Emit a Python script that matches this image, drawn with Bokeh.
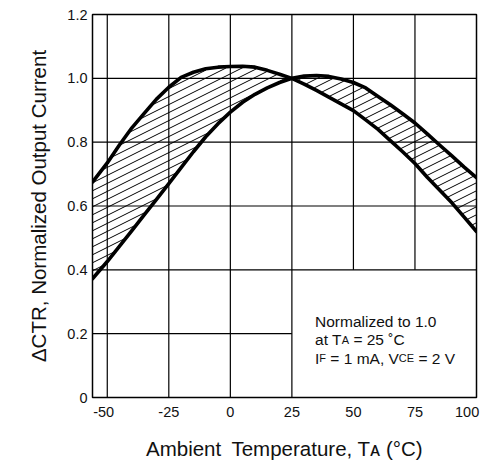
import numpy as np
from bokeh.plotting import figure
from bokeh.models import Label, FixedTicker, Range1d, LinearAxis
from bokeh.embed import file_html
from bokeh.resources import INLINE

# ---------------- data ----------------
temp = [-56, -50, -45, -40, -35, -30, -25, -20, -15, -10, -5, 0, 5, 10, 15, 20, 25,
        30, 35, 40, 45, 50, 55, 60, 65, 70, 75, 80, 85, 90, 95, 100]
ctr_a = [0.675, 0.735, 0.792, 0.845, 0.890, 0.935, 0.972, 1.003, 1.019, 1.030, 1.035, 1.037,
         1.038, 1.035, 1.025, 1.013, 1.000, 0.982, 0.962, 0.941, 0.920, 0.899, 0.870, 0.840,
         0.805, 0.770, 0.733, 0.690, 0.650, 0.610, 0.565, 0.520]
ctr_b = [0.372, 0.426, 0.474, 0.523, 0.572, 0.621, 0.670, 0.720, 0.770, 0.817, 0.858, 0.894,
         0.925, 0.950, 0.970, 0.987, 1.000, 1.007, 1.009, 1.006, 0.998, 0.987, 0.970, 0.943,
         0.917, 0.889, 0.860, 0.826, 0.791, 0.757, 0.722, 0.689]

x_ticks = [-50, -25, 0, 25, 50, 75, 100]
x_tick_labels = ["-50\u2002", "-25", "0", "25", "50", "75", "100\u2002"]
y_ticks = [0, 0.2, 0.4, 0.6, 0.8, 1.0, 1.2]
y_tick_labels = ["0", "0.2", "0.4", "0.6", "0.8", "1.0", "1.2"]

x_title = "Ambient\u2002Temperature, T\u1d00 (°C)"
y_title = "ΔCTR, Normalized Output Current"
note_lines = [
    [("Normalized to 1.0", "main")],
    [("at T", "main"), ("A", "sub"), (" = 25 ˚C", "main")],
    [("I", "main"), ("F", "sub"), (" = 1 mA, V", "main"), ("CE", "sub"), (" = 2 V", "main")],
]
note_left, note_top = 25, 0.4   # corner of the note area (no grid inside)

# ---------------- helpers ----------------
FONT = "Liberation Sans"
W = {' ': 278, '(': 333, ')': 333, ',': 278, '-': 333, '.': 278, '=': 584, 'A': 667, 'C': 722,
     'E': 667, 'F': 611, 'I': 278, 'T': 611, 'V': 667, 'N': 722, 'a': 556, 'b': 556, 'd': 556,
     'e': 556, 'i': 222, 'l': 222, 'm': 833, 'n': 556, 'o': 556, 'p': 556, 'r': 333, 't': 278,
     'u': 556, 'z': 500, '°': 400, '˚': 333}
for dgt in "0123456789":
    W[dgt] = 556


def tw(s, size):
    return sum(W.get(c, 556) for c in s) * size / 1000.0


xmin, xmax = temp[0], x_ticks[-1]
ymin, ymax = y_ticks[0], y_ticks[-1]

p = figure(width=486, height=468, output_backend="svg", toolbar_location=None,
           x_range=Range1d(xmin, xmax), y_range=Range1d(ymin, ymax),
           min_border_left=92, min_border_right=10, min_border_top=14, min_border_bottom=71,
           background_fill_color="white", border_fill_color="white")
p.grid.visible = False
p.outline_line_color = "black"
p.outline_line_width = 1.5
p.outline_line_alpha = 1.0

for ax in (p.xaxis[0], p.yaxis[0]):
    ax.axis_line_color = None
    ax.major_tick_line_color = None
    ax.minor_tick_line_color = None
    ax.major_tick_out = 0
    ax.major_tick_in = 0
    ax.minor_tick_out = 0
    ax.minor_tick_in = 0
    ax.major_label_text_font = FONT
    ax.major_label_text_font_size = "14.5px"
    ax.major_label_text_color = "#111111"
    ax.axis_label_text_font = FONT
    ax.axis_label_text_font_size = "20.5px"
    ax.axis_label_text_font_style = "normal"
    ax.axis_label_text_color = "#111111"

ya = p.yaxis[0]
ya.ticker = FixedTicker(ticks=y_ticks)
ya.major_label_overrides = {t: l for t, l in zip(y_ticks, y_tick_labels)}
ya.major_label_standoff = 5
ya.axis_label = y_title
ya.axis_label_standoff = 14

xa = p.xaxis[0]
xa.ticker = FixedTicker(ticks=x_ticks)
xa.major_label_overrides = {t: l for t, l in zip(x_ticks, x_tick_labels)}
xa.major_label_standoff = 6
xa.axis_label = x_title
xa.axis_label_standoff = 14

# empty spacer panel at the far left (pushes the y title inward); no ticks, no text
pad = LinearAxis(ticker=FixedTicker(ticks=[]), axis_line_color=None,
                 major_tick_line_color=None, minor_tick_line_color=None,
                 major_tick_out=10, major_tick_in=0, minor_tick_out=0, minor_tick_in=0,
                 major_label_standoff=0)
p.add_layout(pad, "left")

# grid lines (omitted inside the note area)
vx = x_ticks[:-1]
vy0 = [note_top if gx > note_left else ymin for gx in vx]
vy1 = [ymax for _ in vx]
p.segment(x0=vx, y0=vy0, x1=vx, y1=vy1, line_color="black", line_width=1.2)
hy = y_ticks[1:-1]
hx0 = [xmin for _ in hy]
hx1 = [note_left if gy < note_top else xmax for gy in hy]
p.segment(x0=hx0, y0=hy, x1=hx1, y1=hy, line_color="black", line_width=1.2)

# hatch lines between the two curves (shallow "/" hatching)
frame_w, frame_h = 486 - 92 - 10, 468 - 14 - 71
px_per_x = frame_w / (xmax - xmin)
px_per_y = frame_h / (ymax - ymin)
hatch_slope = 0.5 * px_per_x / px_per_y      # 0.5 px up per px right
hatch_gap = 8.0 / px_per_y                    # 8 px vertical spacing
lo = np.minimum(ctr_a, ctr_b)
hi = np.maximum(ctr_a, ctr_b)
xs_f = np.linspace(xmin, xmax, 3121)
lo_f = np.interp(xs_f, temp, lo)
hi_f = np.interp(xs_f, temp, hi)
hx0s, hy0s, hx1s, hy1s = [], [], [], []
for c in np.arange(lo.min() - hatch_slope * (xmax - xmin), hi.max() + hatch_gap, hatch_gap):
    yl = c + hatch_slope * (xs_f - xmin)
    inside = ((yl > lo_f + 0.004) & (yl < hi_f - 0.004)).astype(int)
    edges = np.flatnonzero(np.diff(np.concatenate([[0], inside, [0]])))
    for s, e in zip(edges[::2], edges[1::2] - 1):
        if e > s:
            hx0s.append(xs_f[s]); hy0s.append(yl[s])
            hx1s.append(xs_f[e]); hy1s.append(yl[e])
p.segment(x0=hx0s, y0=hy0s, x1=hx1s, y1=hy1s, line_color="black", line_width=1.0)

p.line(temp, ctr_a, line_color="black", line_width=3.6, line_join="round", line_cap="round")
p.line(temp, ctr_b, line_color="black", line_width=3.6, line_join="round", line_cap="round")


def add_parts(parts, x, y, main, sub):
    cur = 0.0
    for txt, kind in parts:
        size = main if kind == "main" else sub
        stripped = txt.lstrip(" ")
        cur += tw(txt[:len(txt) - len(stripped)], size)
        p.add_layout(Label(x=x, y=y, x_offset=cur, text=stripped,
                           text_align="left", text_baseline="alphabetic", text_font=FONT,
                           text_font_size=f"{size}px", text_color="#111111"))
        cur += tw(stripped, size)


# note
note_x = 34.4
note_y = [0.2396, 0.1816, 0.1237]
for parts, ny in zip(note_lines, note_y):
    add_parts(parts, note_x, ny, 15.5, 11)

open("out.html", "w").write(file_html(p, INLINE))
